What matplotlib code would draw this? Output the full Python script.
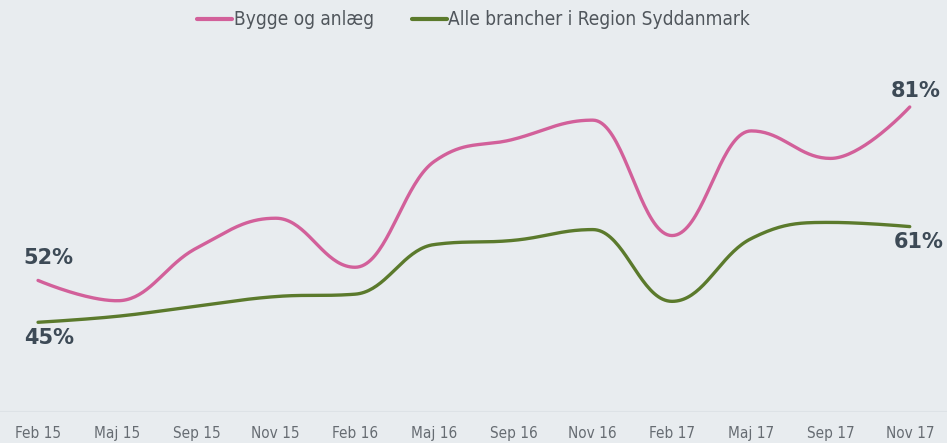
import numpy as np
import matplotlib
matplotlib.use("Agg")
import matplotlib.pyplot as plt

# Data
maaneder = ["Feb 15", "Maj 15", "Sep 15", "Nov 15", "Feb 16", "Maj 16",
            "Sep 16", "Nov 16", "Feb 17", "Maj 17", "Sep 17", "Nov 17"]
bygge = [52, 48.6, 57.4, 62.4, 54.2, 71.9, 75.6, 78.8, 59.5, 77.0, 72.4, 81]
alle = [45, 46, 47.7, 49.3, 49.7, 58, 58.7, 60.5, 48.5, 59, 61.7, 61]

navne = ["Bygge og anlæg", "Alle brancher i Region Syddanmark"]
farver = ["#d2609a", "#5b7a2c"]


def spline(x, y, n=40):
    # kurve som i Highcharts (bezier, smoothing 1.5)
    x = list(map(float, x))
    y = list(map(float, y))
    N = len(x)
    lc = [(x[i], y[i]) for i in range(N)]
    rc = [(x[i], y[i]) for i in range(N)]
    for i in range(1, N - 1):
        lx = (1.5 * x[i] + x[i - 1]) / 2.5
        ly = (1.5 * y[i] + y[i - 1]) / 2.5
        rx = (1.5 * x[i] + x[i + 1]) / 2.5
        ry = (1.5 * y[i] + y[i + 1]) / 2.5
        corr = (ry - ly) * (rx - x[i]) / (rx - lx) + y[i] - ry
        ly += corr
        ry += corr
        if ly > y[i - 1] and ly > y[i]:
            ly = max(y[i - 1], y[i]); ry = 2 * y[i] - ly
        elif ly < y[i - 1] and ly < y[i]:
            ly = min(y[i - 1], y[i]); ry = 2 * y[i] - ly
        if ry > y[i + 1] and ry > y[i]:
            ry = max(y[i + 1], y[i]); ly = 2 * y[i] - ry
        elif ry < y[i + 1] and ry < y[i]:
            ry = min(y[i + 1], y[i]); ly = 2 * y[i] - ry
        lc[i] = (lx, ly)
        rc[i] = (rx, ry)
    t = np.linspace(0, 1, n)[:, None]
    punkter = []
    for i in range(N - 1):
        p0 = np.array([x[i], y[i]])
        p1 = np.array(rc[i])
        p2 = np.array(lc[i + 1])
        p3 = np.array([x[i + 1], y[i + 1]])
        b = (1 - t) ** 3 * p0 + 3 * (1 - t) ** 2 * t * p1 + 3 * (1 - t) * t ** 2 * p2 + t ** 3 * p3
        punkter.append(b if i == 0 else b[1:])
    b = np.vstack(punkter)
    return b[:, 0], b[:, 1]


bg = "#e8ecef"
fig = plt.figure(figsize=(9.47, 4.43), dpi=100, facecolor=bg)
ax = fig.add_axes([0, 0.07, 1, 0.81], facecolor=bg)

x = np.arange(len(maaneder))
for serie, navn, farve in zip([bygge, alle], navne, farver):
    sx, sy = spline(x, serie)
    ax.plot(sx, sy, color=farve, lw=2.4, label=navn, solid_capstyle="round")

ax.set_xlim(-0.48, 11.47)
ax.set_ylim(30, 90)
for s in ax.spines.values():
    s.set_visible(False)
ax.axhline(30, color="#dde2e6", lw=1.5)
ax.set_yticks([])
ax.set_xticks(x)
ax.set_xticklabels(maaneder, fontsize=11, color="#666c72", fontstretch="condensed")
ax.tick_params(axis="x", length=0, pad=10)

# Start- og slutværdier
tekst = dict(fontsize=15, fontweight="bold", color="#3d4a56", ha="center", va="center",
             textcoords="offset pixels")
ax.annotate(f"{bygge[0]:.0f}%", (0, bygge[0]), xytext=(10, 22), **tekst)
ax.annotate(f"{alle[0]:.0f}%", (0, alle[0]), xytext=(11, -16), **tekst)
ax.annotate(f"{bygge[-1]:.0f}%", (11, bygge[-1]), xytext=(6, 16), **tekst)
ax.annotate(f"{alle[-1]:.0f}%", (11, alle[-1]), xytext=(9, -15), **tekst)

leg = fig.legend(loc="upper center", bbox_to_anchor=(0.5, 1.015), ncol=2, frameon=False,
                 prop={"size": 13.7, "stretch": "condensed"}, handlelength=1.85,
                 handletextpad=0.08, columnspacing=2.0)
for t in leg.get_texts():
    t.set_color("#50565c")
for h in leg.legend_handles:
    h.set_linewidth(3)

fig.savefig("out.png", dpi=100, facecolor=bg)
